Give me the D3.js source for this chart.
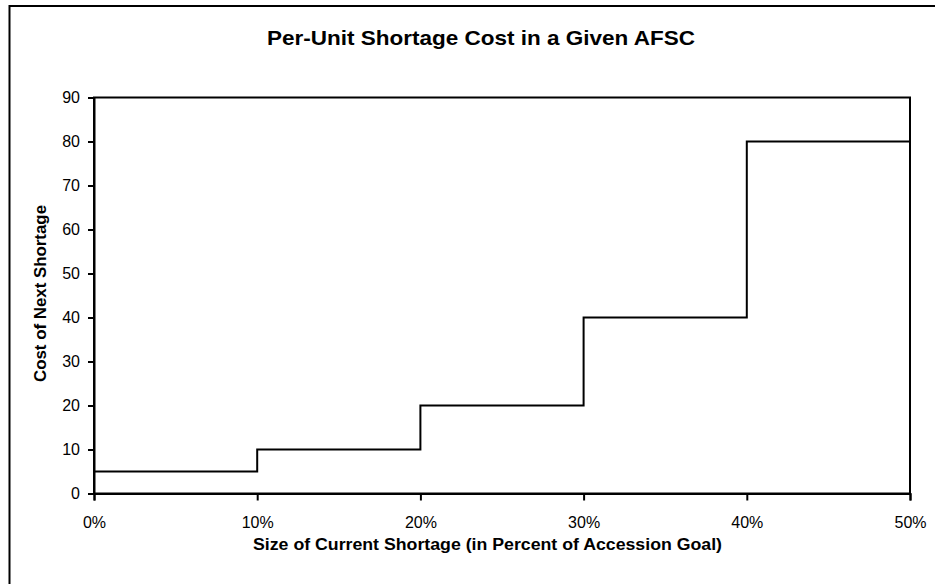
<!DOCTYPE html>
<html>
<head>
<meta charset="utf-8">
<script src="https://cdn.jsdelivr.net/npm/d3@7"></script>
<style>
html,body{margin:0;padding:0;background:#fff;}
svg{display:block;}
text{font-family:"Liberation Sans",Arial,sans-serif;fill:#000;}
</style>
</head>
<body>
<script>
// Data
const shortagePct = [0, 10, 20, 30, 40, 50];
const costValues  = [5, 10, 20, 40, 80, 80];
const xTickValues = [0, 10, 20, 30, 40, 50];
const yTickValues = [0, 10, 20, 30, 40, 50, 60, 70, 80, 90];
const chartTitle = "Per-Unit Shortage Cost in a Given AFSC";
const xTitle = "Size of Current Shortage (in Percent of Accession Goal)";
const yTitle = "Cost of Next Shortage";

const W = 935, H = 584;
const svg = d3.select("body").append("svg").attr("width", W).attr("height", H);

// outer chart border
svg.append("rect").attr("x", 9.5).attr("y", 6).attr("width", 940).attr("height", 600)
  .attr("fill", "none").attr("stroke", "#000").attr("stroke-width", 2);

const L = 94, R = 910, T = 97.5, B = 493.5;
const x = d3.scaleLinear().domain([0, 50]).range([L, R]);
const y = d3.scaleLinear().domain([0, 90]).range([B, T]);

// plot frame
svg.append("rect").attr("x", L).attr("y", T).attr("width", R - L).attr("height", B - T)
  .attr("fill", "none").attr("stroke", "#000").attr("stroke-width", 2);

// y axis
const yAxis = svg.append("g").attr("transform", `translate(${L},0)`)
  .call(d3.axisLeft(y).tickValues(yTickValues).tickSize(6).tickPadding(8).tickFormat(d3.format("d")));
yAxis.attr("font-size", null).attr("font-family", null);
yAxis.select(".domain").attr("stroke-width", 2);
yAxis.selectAll(".tick line").attr("stroke-width", 2);
yAxis.selectAll("text").style("font-size", "16px");

// x axis
const xAxis = svg.append("g").attr("transform", `translate(0,${B})`)
  .call(d3.axisBottom(x).tickValues(xTickValues).tickSize(7).tickPadding(16).tickFormat(d => d + "%"));
xAxis.attr("font-size", null).attr("font-family", null);
xAxis.select(".domain").attr("stroke-width", 2);
xAxis.selectAll(".tick line").attr("stroke-width", 2);
xAxis.selectAll("text").style("font-size", "16px");

// step line
const pts = shortagePct.map((d, i) => [d, costValues[i]]);
svg.append("path").datum(pts)
  .attr("d", d3.line().x(d => x(d[0])).y(d => y(d[1])).curve(d3.curveStepAfter))
  .attr("fill", "none").attr("stroke", "#000").attr("stroke-width", 2);

// titles
svg.append("text").attr("x", 481).attr("y", 45).attr("text-anchor", "middle")
  .attr("textLength", 428).attr("lengthAdjust", "spacingAndGlyphs")
  .style("font-size", "21px").style("font-weight", "bold").text(chartTitle);
svg.append("text").attr("x", 487.5).attr("y", 550).attr("text-anchor", "middle")
  .attr("textLength", 469).attr("lengthAdjust", "spacingAndGlyphs")
  .style("font-size", "16px").style("font-weight", "bold").text(xTitle);
svg.append("text").attr("transform", "translate(46,293.5) rotate(-90)").attr("text-anchor", "middle")
  .attr("textLength", 177).attr("lengthAdjust", "spacingAndGlyphs")
  .style("font-size", "16px").style("font-weight", "bold").text(yTitle);
</script>
</body>
</html>
